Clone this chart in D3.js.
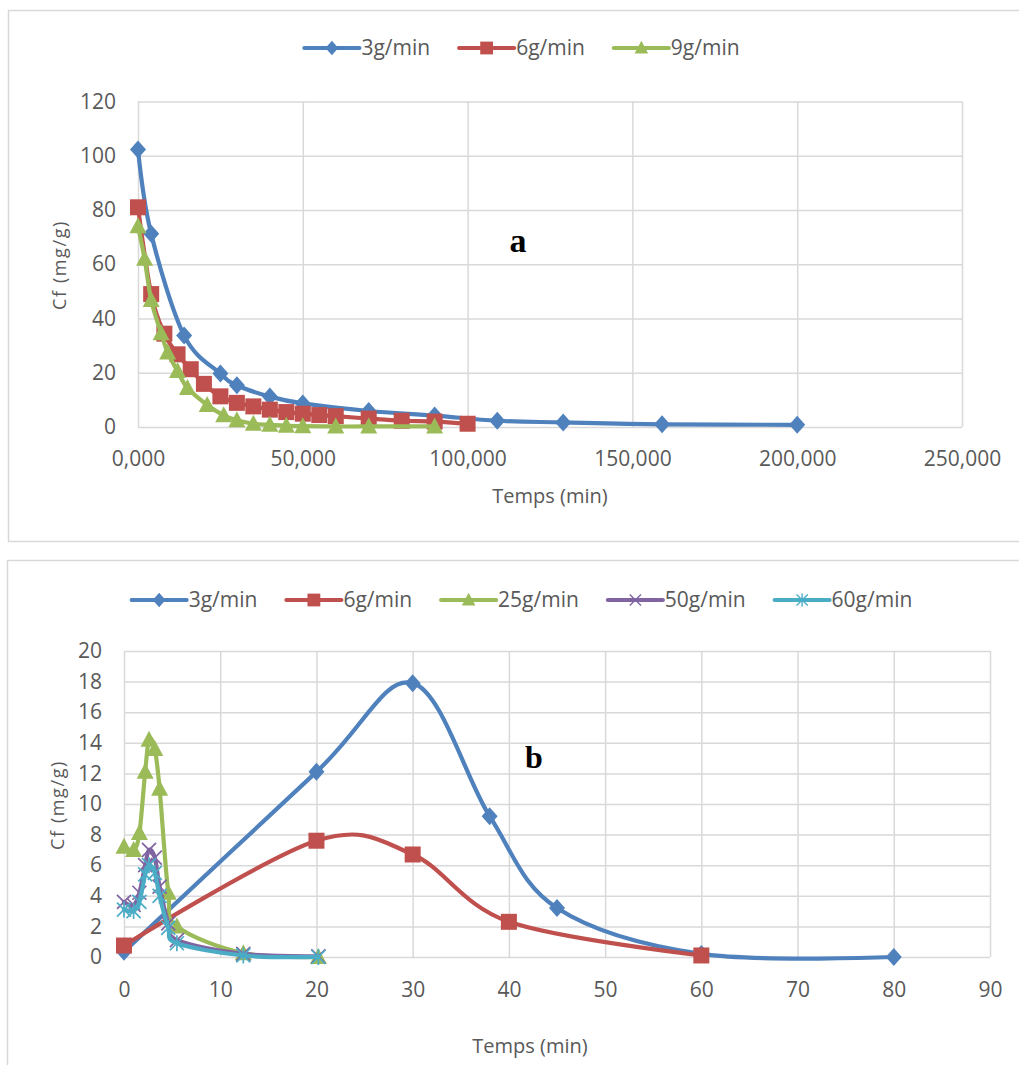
<!DOCTYPE html>
<html>
<head>
<meta charset="utf-8">
<script src="https://cdn.jsdelivr.net/npm/d3@7"></script>
<style>
  body { margin: 0; background: #fff; }
  svg { display: block; }
  text { font-family: "Open Sans", sans-serif; }
</style>
</head>
<body>
<div class="chart"></div>
<script>
// chart a data (time in min, Cf in mg/g)
var aNames = ["3g/min", "6g/min", "9g/min"];
var a3x = [0, 4, 14, 25, 30, 40, 50, 70, 90, 109, 129, 159, 200];
var a3y = [102.3, 71.2, 33.7, 19.7, 15.4, 11.2, 8.7, 5.9, 4.2, 2.3, 1.7, 1.0, 0.8];
var a6x = [0, 4, 8, 12, 16, 20, 25, 30, 35, 40, 45, 50, 55, 60, 70, 80, 90, 100];
var a6y = [81, 49, 34.4, 26.8, 21.3, 15.9, 11.3, 8.9, 7.6, 6.4, 5.5, 4.9, 4.4, 4.0, 3.1, 2.3, 2.0, 1.2];
var a9x = [0, 2, 4, 7, 9, 12, 15, 21, 26, 30, 35, 40, 45, 50, 60, 70, 90];
var a9y = [74, 62, 46.8, 34.6, 27.5, 20.6, 14.4, 8.1, 4.3, 2.5, 1.2, 0.8, 0.5, 0.3, 0.2, 0.2, 0.2];
var aXTicks = [0, 50, 100, 150, 200, 250];
var aYTicks = [0, 20, 40, 60, 80, 100, 120];

// chart b data
var bNames = ["3g/min", "6g/min", "25g/min", "50g/min", "60g/min"];
var b3x = [0, 20, 30, 38, 45, 60, 80];
var b3y = [0.35, 12.1, 17.9, 9.2, 3.2, 0.2, 0.0];
var b6x = [0, 20, 30, 40, 60];
var b6y = [0.75, 7.6, 6.7, 2.3, 0.1];
var bFastX = [0, 1, 1.6, 2.2, 2.6, 3.2, 3.7, 4.6, 5.5, 12.4, 20.2];
var b25y = [7.2, 7.0, 8.1, 12.1, 14.2, 13.6, 11.0, 4.2, 2.0, 0.25, 0.0];
var b50y = [3.6, 3.4, 4.2, 6.0, 7.0, 6.5, 4.6, 2.2, 1.1, 0.2, 0.05];
var b60y = [3.1, 3.0, 3.6, 5.4, 6.0, 5.5, 4.0, 1.9, 0.9, 0.1, 0.0];
var bXTicks = [0, 10, 20, 30, 40, 50, 60, 70, 80, 90];
var bYTicks = [0, 2, 4, 6, 8, 10, 12, 14, 16, 18, 20];

var colors = ["#4f81bd", "#c0504d", "#9bbb59", "#8064a2", "#4bacc6"];
var gridColor = "#d9d9d9";
var labelColor = "#595959";

var frFormat = d3.formatLocale({decimal: ",", thousands: " ", grouping: [3], currency: ["", " €"]}).format(".3f");

function zip(xs, ys) {
  return xs.map(function(x, i) { return {x: x, y: ys[i]}; });
}

var svg = d3.select(".chart").append("svg")
  .attr("width", 1019)
  .attr("height", 1065);

// outer chart boxes
svg.append("rect").attr("x", 8.5).attr("y", 10.5).attr("width", 1030).attr("height", 531)
  .attr("fill", "none").attr("stroke", gridColor).attr("stroke-width", 1.5);
svg.append("rect").attr("x", 7.5).attr("y", 560.5).attr("width", 1030).attr("height", 530)
  .attr("fill", "none").attr("stroke", gridColor).attr("stroke-width", 1.5);

// marker drawing, s = scale
function drawMarker(g, kind, color, s) {
  s = s || 1;
  var m = g.append("g").attr("transform", "scale(" + s + ")");
  if (kind === "diamond") {
    m.append("path").attr("d", "M0,-9L8,0L0,9L-8,0Z").attr("fill", color);
  } else if (kind === "square") {
    m.append("rect").attr("x", -8).attr("y", -8).attr("width", 16).attr("height", 16).attr("fill", color);
  } else if (kind === "triangle") {
    m.append("path").attr("d", "M0,-9L8.5,7L-8.5,7Z").attr("fill", color);
  } else if (kind === "x") {
    m.append("path").attr("d", "M-7,-7L7,7M-7,7L7,-7").attr("stroke", color).attr("stroke-width", 1.7);
  } else if (kind === "star") {
    m.append("path").attr("d", "M-7,-7L7,7M-7,7L7,-7M0,-8L0,8").attr("stroke", color).attr("stroke-width", 1.7);
  }
}

var kinds = ["diamond", "square", "triangle", "x", "star"];

function makeChart(opt) {
  var x = d3.scaleLinear().domain(opt.xDomain).range([opt.left, opt.right]);
  var y = d3.scaleLinear().domain(opt.yDomain).range([opt.bottom, opt.top]);

  // gridlines + tick labels
  var yAxis = svg.append("g")
    .attr("transform", "translate(" + opt.left + ",0)")
    .call(d3.axisLeft(y).tickValues(opt.yTicks).tickSize(-(opt.right - opt.left)).tickPadding(22));
  yAxis.select(".domain").remove();
  yAxis.selectAll("line").attr("stroke", gridColor).attr("stroke-width", 1.5);
  yAxis.selectAll("text").attr("fill", labelColor).attr("font-size", 21)
    .style("font-family", "'Open Sans', sans-serif");

  var xAxis = svg.append("g")
    .attr("transform", "translate(0," + opt.bottom + ")")
    .call(d3.axisBottom(x).tickValues(opt.xTicks).tickSize(-(opt.bottom - opt.top)).tickFormat(opt.xFormat));
  xAxis.select(".domain").remove();
  xAxis.selectAll("line").attr("stroke", gridColor).attr("stroke-width", 1.5);
  xAxis.selectAll("text").attr("fill", labelColor).attr("font-size", 21)
    .attr("y", opt.xLabelOffset).attr("dy", "0.35em")
    .style("font-family", "'Open Sans', sans-serif");

  // axis titles
  svg.append("text")
    .attr("x", opt.xTitle[0]).attr("y", opt.xTitle[1])
    .attr("text-anchor", "middle").attr("dy", "0.35em")
    .attr("font-size", 20).attr("fill", labelColor)
    .text("Temps (min)");
  svg.append("text")
    .attr("transform", "translate(" + opt.yTitle[0] + "," + opt.yTitle[1] + ") rotate(-90)")
    .attr("text-anchor", "middle").attr("dy", "0.35em")
    .attr("font-size", 18).attr("letter-spacing", 1.6).attr("fill", labelColor)
    .text("Cf (mg/g)");

  // series
  var line = d3.line()
    .x(function(d) { return x(d.x); })
    .y(function(d) { return y(d.y); })
    .curve(d3.curveCatmullRom.alpha(0));

  opt.series.forEach(function(s, i) {
    var g = svg.append("g");
    g.append("path")
      .datum(s)
      .attr("d", line)
      .attr("fill", "none")
      .attr("stroke", colors[i])
      .attr("stroke-width", 4.2)
      .attr("stroke-linejoin", "round")
      .attr("stroke-linecap", "round");
    g.selectAll(".m")
      .data(s)
      .enter()
      .append("g")
      .attr("transform", function(d) { return "translate(" + x(d.x) + "," + y(d.y) + ")"; })
      .each(function() { drawMarker(d3.select(this), kinds[i], colors[i], 1); });
  });

  // big letter
  svg.append("text")
    .attr("x", opt.letter[0]).attr("y", opt.letter[1])
    .attr("text-anchor", "middle").attr("dy", "0.35em")
    .style("font-family", "'Liberation Serif', 'Times New Roman', serif")
    .attr("font-weight", "bold").attr("font-size", opt.letter[3])
    .text(opt.letter[2]);

  // legend
  var legend = svg.append("g");
  var cursor = 0;
  opt.names.forEach(function(name, i) {
    var item = legend.append("g").attr("transform", "translate(" + cursor + ",0)");
    item.append("line").attr("x1", 0).attr("x2", 55).attr("y1", 0).attr("y2", 0)
      .attr("stroke", colors[i]).attr("stroke-width", 4.2).attr("stroke-linecap", "round");
    var mk = item.append("g").attr("transform", "translate(27.5,0)");
    drawMarker(mk, kinds[i], colors[i], 0.8);
    var t = item.append("text").attr("x", 57).attr("dy", "0.35em")
      .attr("font-size", 21).attr("fill", labelColor).text(name);
    cursor += 57 + t.node().getComputedTextLength() + 29;
  });
  var total = cursor - 29;
  legend.attr("transform", "translate(" + (opt.legend[0] - total / 2) + "," + opt.legend[1] + ")");
}

makeChart({
  xDomain: [0, 250], yDomain: [0, 120],
  left: 138, right: 962, top: 101.5, bottom: 427,
  xTicks: aXTicks, yTicks: aYTicks, xFormat: frFormat, xLabelOffset: 32,
  xTitle: [550, 496], yTitle: [60, 265],
  series: [zip(a3x, a3y), zip(a6x, a6y), zip(a9x, a9y)],
  names: aNames,
  letter: [518, 240, "a", 34],
  legend: [522, 48]
});

makeChart({
  xDomain: [0, 90], yDomain: [0, 20],
  left: 124, right: 990, top: 651, bottom: 957,
  xTicks: bXTicks, yTicks: bYTicks, xFormat: d3.format("d"), xLabelOffset: 33,
  xTitle: [530, 1046], yTitle: [58, 805],
  series: [zip(b3x, b3y), zip(b6x, b6y), zip(bFastX, b25y), zip(bFastX, b50y), zip(bFastX, b60y)],
  names: bNames,
  letter: [534, 757, "b", 32],
  legend: [522, 600]
});
</script>
</body>
</html>
